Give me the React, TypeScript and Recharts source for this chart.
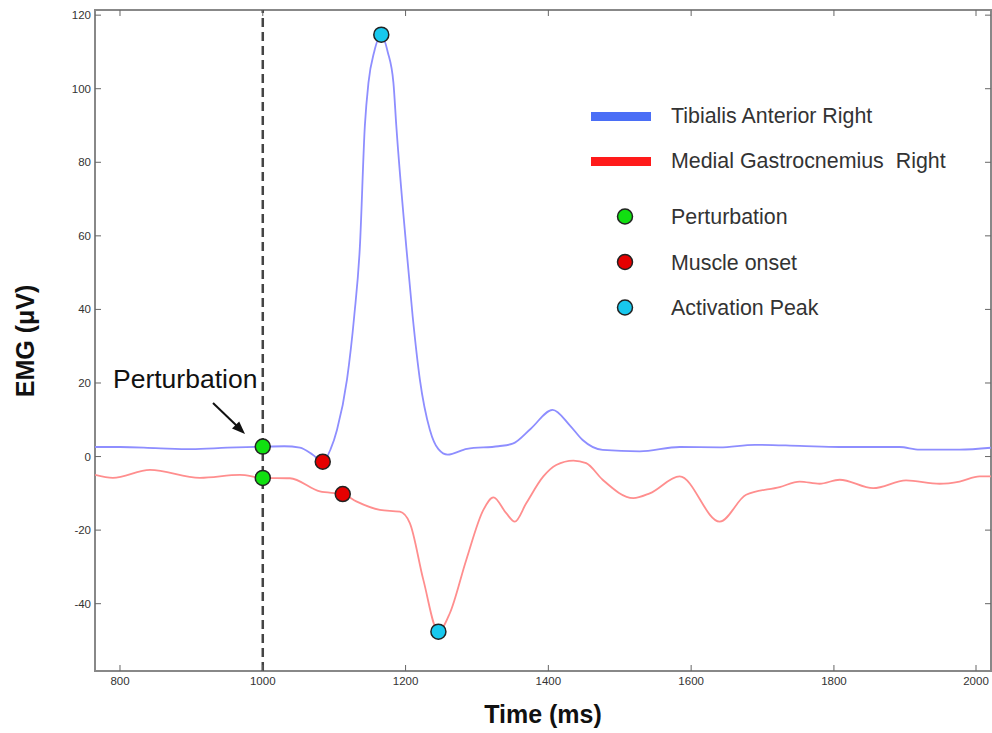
import React from "react";
import { ComposedChart, Line, Scatter, XAxis, YAxis, ReferenceLine } from "recharts";

// time (ms) / EMG (µV) samples
const taTime = [765, 800, 850, 900, 950, 1000, 1030, 1052, 1070, 1084, 1095, 1104, 1118, 1128, 1136, 1143, 1148, 1156, 1166, 1175, 1183, 1187, 1201, 1210, 1220, 1234, 1246, 1259, 1286, 1330, 1350, 1375, 1406, 1430, 1448, 1476, 1528, 1584, 1640, 1689, 1752, 1808, 1892, 1920, 1976, 2020];
const taEmg = [2.6, 2.6, 2.3, 2.0, 2.4, 2.7, 2.8, 2.4, 0.5, -1.4, 2, 7.3, 21, 38, 57, 90, 101.6, 110, 114.7, 110, 101.6, 90, 57, 38, 21, 7.3, 2, 0.5, 2.1, 2.8, 3.5, 7.5, 12.7, 8.5, 4.5, 1.8, 1.4, 2.6, 2.5, 3.2, 2.9, 2.6, 2.6, 1.9, 1.9, 2.4];

const mgTime = [765, 790, 842, 912, 968, 1000, 1038, 1080, 1112, 1131, 1164, 1192, 1206, 1225, 1246, 1262, 1285, 1309, 1323, 1341, 1353, 1369, 1393, 1411, 1435, 1453, 1476, 1519, 1542, 1584, 1640, 1677, 1724, 1752, 1780, 1808, 1855, 1901, 1948, 1976, 2004, 2020];
const mgEmg = [-5.0, -5.8, -3.6, -5.8, -5.0, -5.8, -5.9, -9.5, -10.2, -12.2, -14.5, -15, -18.1, -33.6, -47.6, -42.6, -28.1, -14.5, -11.1, -15.4, -17.7, -12.7, -5.4, -2.3, -1.1, -1.8, -6.3, -11.3, -10, -5.4, -17.7, -10.4, -8.3, -6.8, -7.4, -6.3, -8.6, -6.5, -7.4, -6.8, -5.4, -5.4];

// event markers: [TA, MG]
const perturbTime = [1000, 1000];
const perturbEmg = [2.7, -5.8];
const onsetTime = [1084, 1112];
const onsetEmg = [-1.4, -10.2];
const peakTime = [1166, 1246];
const peakEmg = [114.7, -47.6];

const xTicks = [800, 1000, 1200, 1400, 1600, 1800, 2000];
const yTicks = [-40, -20, 0, 20, 40, 60, 80, 100, 120];

const lineLegend = [
  { label: "Tibialis Anterior Right", color: "#4a6ef6" },
  { label: "Medial Gastrocnemius  Right", color: "#ff1a1a" },
];
const dotLegend = [
  { label: "Perturbation", color: "#11e011" },
  { label: "Muscle onset", color: "#e50000" },
  { label: "Activation Peak", color: "#18c8ee" },
];

const toPoints = (ts: number[], vs: number[]) => ts.map((t, i) => ({ t, v: vs[i] }));
const taData = toPoints(taTime, taEmg);
const mgData = toPoints(mgTime, mgEmg);

const PLOT = { left: 95, top: 10, right: 991, bottom: 671 };
const FONT = "'Liberation Sans', Arial, sans-serif";

const XTick = ({ x, payload }: any) => (
  <g>
    <line x1={x} x2={x} y1={PLOT.bottom} y2={PLOT.bottom - 6} stroke="#666" />
    <line x1={x} x2={x} y1={PLOT.top} y2={PLOT.top + 6} stroke="#666" />
    <text x={x} y={PLOT.bottom + 14} textAnchor="middle" fontSize={11.5} fill="#333" fontFamily={FONT}>
      {payload.value}
    </text>
  </g>
);

const YTick = ({ y, payload }: any) => (
  <g>
    <line x1={PLOT.left} x2={PLOT.left + 6} y1={y} y2={y} stroke="#666" />
    <line x1={PLOT.right} x2={PLOT.right - 6} y1={y} y2={y} stroke="#666" />
    <text x={PLOT.left - 4} y={y + 4} textAnchor="end" fontSize={11.5} fill="#333" fontFamily={FONT}>
      {payload.value}
    </text>
  </g>
);

const marker = (fill: string) => (props: any) => (
  <circle cx={props.cx} cy={props.cy} r={7.5} fill={fill} stroke="#222" strokeWidth={1.5} />
);

export default function App() {
  return (
    <div style={{ position: "absolute", left: 0, top: 0, background: "#fff" }}>
      <ComposedChart
        width={992}
        height={733}
        margin={{ top: PLOT.top, right: 992 - PLOT.right, bottom: 0, left: 0 }}
      >
        <XAxis
          type="number"
          dataKey="t"
          domain={[765, 2020]}
          ticks={xTicks}
          allowDataOverflow
          height={733 - PLOT.bottom}
          axisLine={false}
          tickLine={false}
          tick={<XTick />}
        />
        <YAxis
          type="number"
          dataKey="v"
          domain={[-58.3, 121.4]}
          ticks={yTicks}
          allowDataOverflow
          width={PLOT.left}
          axisLine={false}
          tickLine={false}
          tick={<YTick />}
        />
        <ReferenceLine x={1000} stroke="#444" strokeWidth={2.5} strokeDasharray="9 5" />
        <Line data={taData} dataKey="v" type="monotone" stroke="#8e8eff" strokeWidth={1.8} dot={false} isAnimationActive={false} />
        <Line data={mgData} dataKey="v" type="monotone" stroke="#ff8e8e" strokeWidth={1.8} dot={false} isAnimationActive={false} />
        <Scatter data={toPoints(perturbTime, perturbEmg)} dataKey="v" shape={marker(dotLegend[0].color)} isAnimationActive={false} />
        <Scatter data={toPoints(onsetTime, onsetEmg)} dataKey="v" shape={marker(dotLegend[1].color)} isAnimationActive={false} />
        <Scatter data={toPoints(peakTime, peakEmg)} dataKey="v" shape={marker(dotLegend[2].color)} isAnimationActive={false} />

        {/* frame */}
        <rect x={PLOT.left} y={PLOT.top} width={PLOT.right - PLOT.left} height={PLOT.bottom - PLOT.top} fill="none" stroke="#888" strokeWidth={2} />

        {/* axis titles */}
        <text x={543} y={723} textAnchor="middle" fontSize={25} fontWeight="bold" fill="#111" fontFamily={FONT}>
          Time (ms)
        </text>
        <text x={34} y={341} transform="rotate(-90 34 341)" textAnchor="middle" fontSize={25} fontWeight="bold" fill="#111" fontFamily={FONT}>
          EMG (μV)
        </text>

        {/* annotation */}
        <text x={113} y={388} fontSize={26.5} fill="#111" fontFamily={FONT}>Perturbation</text>
        <line x1={213} y1={403} x2={237} y2={426} stroke="#111" strokeWidth={2} />
        <polygon points="245,434 232,428.6 239.2,421.4" fill="#111" />

        {/* legend */}
        {lineLegend.map((s, i) => (
          <g key={s.label}>
            <rect x={591} y={112 + i * 45} width={60} height={9} fill={s.color} />
            <text x={671} y={123 + i * 45} fontSize={21.4} fill="#333" fontFamily={FONT} style={{ whiteSpace: "pre" }}>
              {s.label}
            </text>
          </g>
        ))}
        {dotLegend.map((s, i) => (
          <g key={s.label}>
            <circle cx={625} cy={216.5 + i * 45.5} r={7.5} fill={s.color} stroke="#222" strokeWidth={1.5} />
            <text x={671} y={224 + i * 45.5} fontSize={21.4} fill="#333" fontFamily={FONT}>
              {s.label}
            </text>
          </g>
        ))}
      </ComposedChart>
    </div>
  );
}
